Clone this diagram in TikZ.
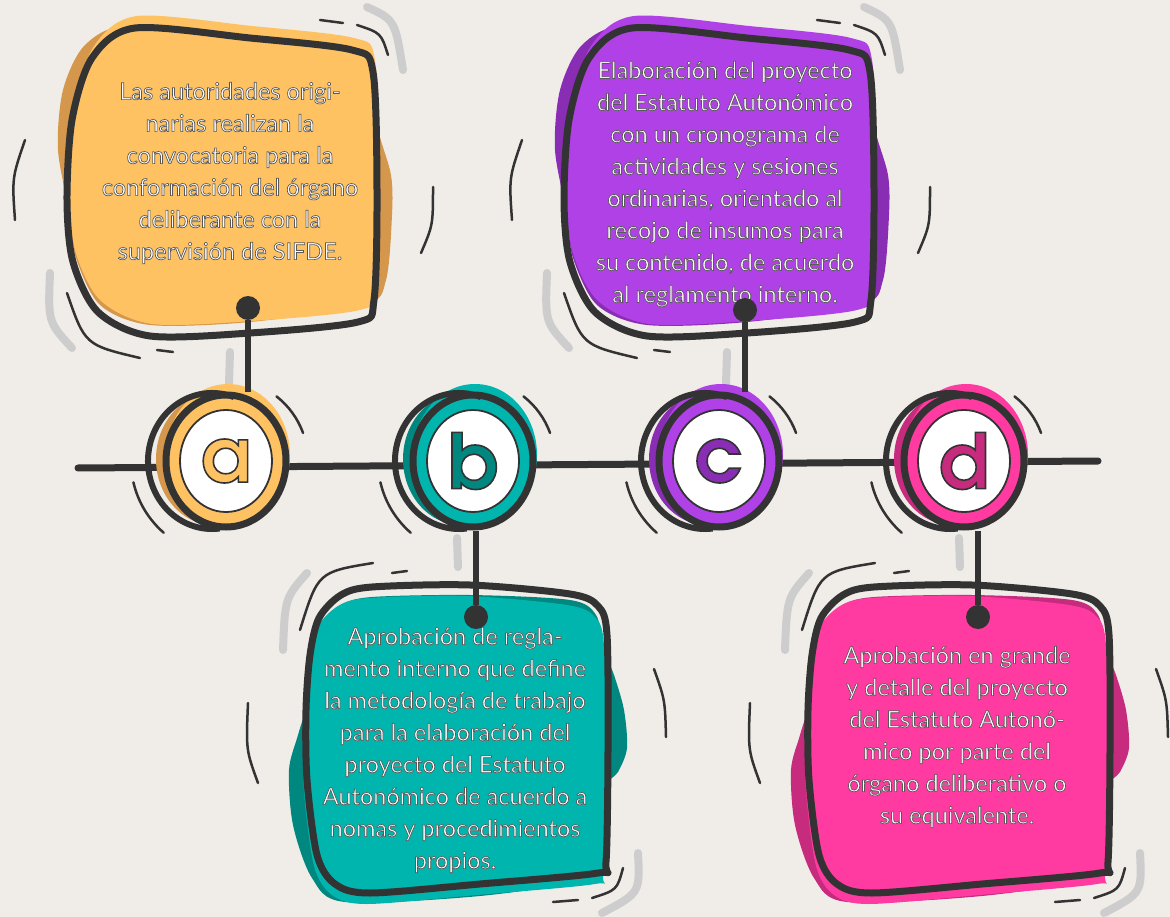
\documentclass[tikz,border=0pt]{standalone}
\usepackage{fontspec}
\setmainfont{Lato}
\newfontfamily\letterfont{TeX Gyre Adventor}
\usepackage{tikz}
\usetikzlibrary{shapes.geometric}

\definecolor{paper}{HTML}{F0EDE8}
\definecolor{ink}{HTML}{333333}
\definecolor{smoke}{HTML}{CDCDCD}
\definecolor{orangeA}{HTML}{FFC263}
\definecolor{orangeB}{HTML}{D4974B}
\definecolor{tealA}{HTML}{00B5AE}
\definecolor{tealB}{HTML}{00877F}
\definecolor{violetA}{HTML}{B041E6}
\definecolor{violetB}{HTML}{8A2DB5}
\definecolor{pinkA}{HTML}{FF3AA0}
\definecolor{pinkB}{HTML}{C62B7E}

% outlined letters (fill + stroke)
\newcommand{\inked}[2]{\special{pdf:literal direct 2 Tr #1 w #2 RG}}
\newcommand{\uninked}{\special{pdf:literal direct 0 Tr}}

\newcommand{\upperblob}{plot[smooth cycle, tension=.5] coordinates {(67,200) (72,120) (92,58) (135,28) (250,38) (352,50) (373,72) (377,190) (374,300) (358,322) (250,333) (150,336) (98,312) (73,262)}}
\newcommand{\uppershade}{plot[smooth cycle, tension=.5] coordinates {(70,215) (58,150) (63,90) (85,45) (130,25) (250,36) (350,50) (368,75) (378,130) (391,175) (392,215) (386,280) (365,305) (250,322) (150,325) (100,305) (76,258)}}
\newcommand{\lowerblob}{plot[smooth cycle, tension=.5] coordinates {(306,710) (310,655) (319,618) (341,595) (372,587) (470,585) (570,594) (598,606) (607,635) (608,750) (606,862) (598,873) (480,884) (370,893) (335,884) (317,855) (307,780)}}
\newcommand{\lowershade}{plot[smooth cycle, tension=.5] coordinates {(312,655) (308,700) (298,735) (289,770) (293,825) (312,878) (345,902) (480,896) (598,878) (604,860) (605,790) (618,772) (627,748) (624,710) (614,675) (604,650) (596,615) (570,600) (470,595) (372,597) (341,605) (322,625)}}

\tikzset{
  boxline/.style={draw=ink, line width=7, line join=round},
  ring/.style={ellipse, draw=ink, line width=7, minimum width=120, minimum height=132, inner sep=0},
  disc/.style={ellipse, fill=white, draw=ink, line width=1.8, minimum width=92, minimum height=102, inner sep=0, font=\letterfont\bfseries\fontsize{76}{76}\selectfont},
  ringline/.style={draw=ink, line width=6},
  wiggle/.style={draw=ink, line width=2.5, line cap=round},
  smear/.style={draw=smoke, line width=8, line cap=round},
  timeline/.style={draw=ink, line width=7, line cap=round},
  stem/.style={draw=ink, line width=6},
  knob/.style={circle, fill=ink, minimum size=24, inner sep=0},
  note/.style={text=white, align=center, font=\fontsize{23.5}{32}\selectfont},
}

% box above the line
\newcommand{\upperbox}[3]{%
  \begin{scope}[shift={(#1,0)}]
    \draw[smear] (367,7) .. controls (395,20) .. (403,70);
    \draw[wiggle] (357,25) .. controls (381,33) .. (388,55);
    \draw[wiggle] (320,20) -- (343,23);
    \draw[wiggle] (25,140) .. controls (12,178) .. (15,220);
    \draw[wiggle] (433,187) .. controls (433,225) .. (421,253);
    \draw[smear] (50,273) .. controls (48,322) .. (72,348);
    \draw[wiggle] (67,293) .. controls (85,345) .. (140,358);
    \draw[wiggle] (157,350) -- (173,352);
    \draw[smear] (230,352) -- (229,384);
    \fill[#3] \uppershade;
    \fill[#2, shift={(2,-12)}] \upperblob;
    \draw[boxline] \upperblob;
  \end{scope}}

% box below the line
\newcommand{\lowerbox}[3]{%
  \begin{scope}[shift={(#1,0)}]
    \draw[smear] (307,573) .. controls (285,598) .. (283,650);
    \draw[wiggle] (373,563) .. controls (318,572) .. (300,630);
    \draw[wiggle] (392,573) -- (407,571);
    \draw[wiggle] (248,703) .. controls (246,750) .. (258,783);
    \draw[wiggle] (654,669) .. controls (665,700) .. (666,737);
    \draw[smear] (638,853) .. controls (640,893) .. (602,913);
    \draw[wiggle] (623,868) .. controls (617,890) .. (592,898);
    \draw[wiggle] (553,902) -- (578,900);
    \draw[smear] (457,538) -- (458,567);
    \fill[#3] \lowershade;
    \fill[#2, shift={(-3,11)}] \lowerblob;
    \draw[boxline] \lowerblob;
  \end{scope}}

% letter ring: name, x, light, dark, letter, letter colour
\newcommand{\stepring}[6]{%
  \fill[#4] (#2-12,459) ellipse[x radius=58, y radius=66];
  \fill[#3] (#2+2,455) ellipse[x radius=62, y radius=71];
  \draw[ringline] (#2-14,461) ++(-70:64 and 68) arc[start angle=-70, end angle=-277, x radius=64, y radius=68];
  \node[ring] (ring#1) at (#2,461) {};
  \node[disc, text=#6] (disc#1) at (#2,461) {\inked{1.6}{0.2 0.2 0.2}#5\uninked};
  \draw[wiggle] (ring#1.center) ++(-52:82) arc[start angle=-52, end angle=-20, radius=82];
  \draw[wiggle] (ring#1.center) ++(167:95) arc[start angle=167, end angle=131, radius=95];
}

\begin{document}
\begin{tikzpicture}[x=1pt, y=-1pt]
  \useasboundingbox (0,0) rectangle (1170,917);
  \fill[paper] (0,0) rectangle (1170,917);

  \coordinate (tlstart) at (78,468);
  \coordinate (tlend) at (1098,461);
  \draw[timeline] (tlstart) -- (tlend);

  \upperbox{0}{orangeA}{orangeB}
  \upperbox{497}{violetA}{violetB}
  \lowerbox{0}{tealA}{tealB}
  \lowerbox{502}{pinkA}{pinkB}

  \node[note] (notea) at (230,173) {\inked{0.7}{0.35 0.35 0.35}Las autoridades origi-\\narias realizan la\\convocatoria para la\\conformación del órgano\\deliberante con la\\supervisión de SIFDE.\uninked};
  \node[note] (notec) at (725,184) {\inked{0.7}{0.35 0.35 0.35}Elaboración del proyecto\\del Estatuto Autonómico\\con un cronograma de\\actividades y sesiones\\ordinarias, orientado al\\recojo de insumos para\\su contenido, de acuerdo\\al reglamento interno.\uninked};
  \node[note] (noteb) at (455,750) {\inked{0.7}{0.35 0.35 0.35}Aprobación de regla-\\mento interno que define\\la metodología de trabajo\\para la elaboración del\\proyecto del Estatuto\\Autonómico de acuerdo a\\nomas y procedimientos\\propios.\uninked};
  \node[note] (noted) at (957,737) {\inked{0.7}{0.35 0.35 0.35}Aprobación en grande\\y detalle del proyecto\\del Estatuto Autonó-\\mico por parte del\\órgano deliberativo o\\su equivalente.\uninked};

  \node[knob] (knoba) at (248,308) {};
  \node[knob] (knobc) at (745,310) {};
  \node[knob] (knobb) at (476,617) {};
  \node[knob] (knobd) at (978,617) {};

  \stepring{a}{226}{orangeA}{orangeB}{a}{orangeA}
  \stepring{b}{473}{tealA}{tealB}{b}{tealB}
  \stepring{c}{719}{violetA}{violetB}{c}{violetB}
  \stepring{d}{964}{pinkA}{pinkB}{d}{pinkB}

  \draw[stem] (knoba) -- (knoba |- ringa.north);
  \draw[stem] (knobc) -- (knobc |- ringc.north);
  \draw[stem] (ringb.south -| knobb) -- (knobb);
  \draw[stem] (ringd.south -| knobd) -- (knobd);
\end{tikzpicture}
\end{document}
